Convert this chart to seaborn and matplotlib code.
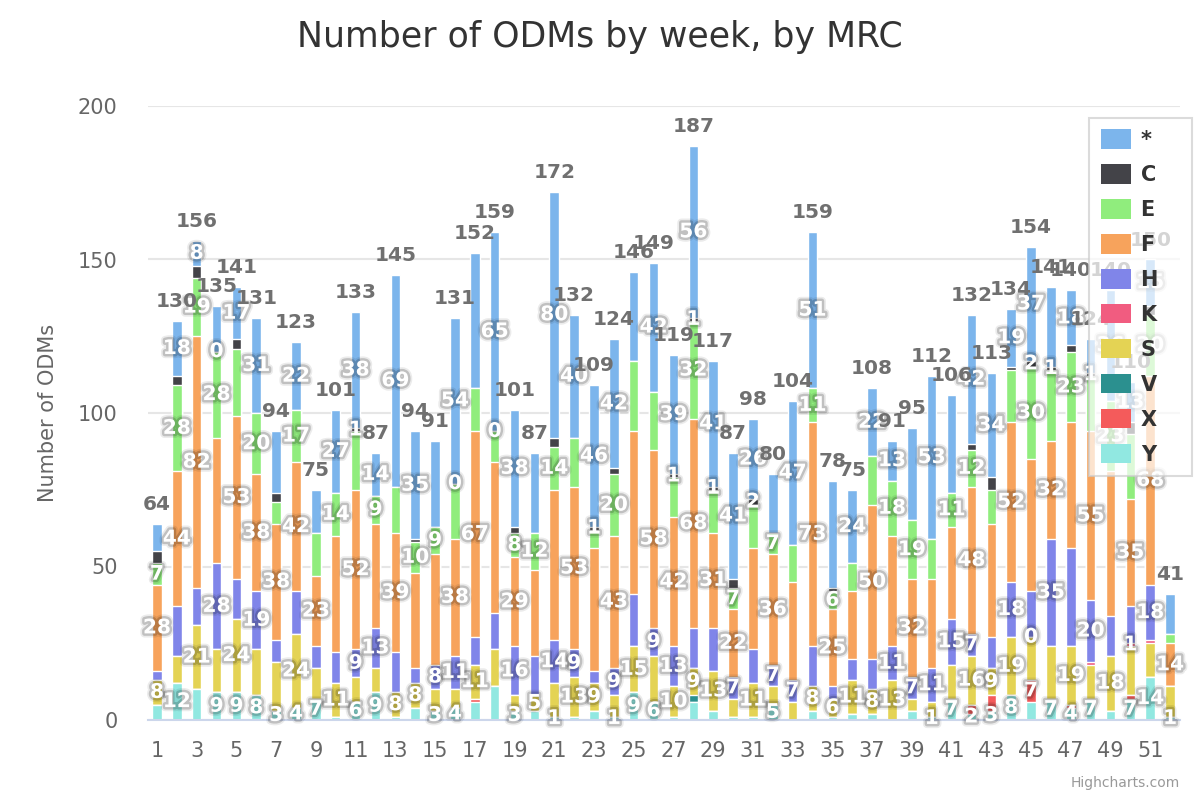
import numpy as np
import pandas as pd
import seaborn as sns
import matplotlib.pyplot as plt
from matplotlib import patheffects
from matplotlib.patches import Patch

# weekly ODM counts per MRC
weeks = list(range(1, 53))
star = [9, 18, 8, 15, 17, 31, 20, 22, 14, 27, 38, 14, 69, 35, 28, 54, 44, 65, 38, 26,
        80, 40, 46, 42, 29, 42, 39, 56, 41, 41, 26, 19, 47, 51, 35, 24, 22, 13, 30, 53,
        32, 42, 34, 19, 37, 26, 18, 11, 36, 13, 15, 13]
c_vals = [4, 3, 4, 0, 3, 0, 3, 0, 0, 0, 1, 0, 0, 1, 0, 0, 0, 0, 2, 0,
          3, 0, 1, 2, 0, 0, 1, 1, 1, 3, 2, 0, 0, 0, 1, 0, 0, 0, 0, 0,
          0, 2, 4, 1, 2, 1, 2, 1, 0, 4, 3, 0]
e_vals = [7, 28, 19, 28, 22, 20, 7, 17, 14, 14, 19, 9, 15, 10, 9, 18, 14, 10, 8, 12,
          14, 16, 6, 20, 23, 19, 13, 32, 14, 7, 14, 7, 12, 11, 6, 9, 16, 18, 19, 13,
          11, 12, 11, 17, 30, 23, 23, 18, 23, 21, 20, 3]
f_vals = [28, 44, 82, 41, 53, 38, 38, 42, 23, 38, 52, 34, 39, 31, 36, 38, 67, 49, 29, 28,
          49, 53, 40, 43, 53, 58, 42, 68, 31, 22, 33, 36, 32, 73, 25, 22, 50, 36, 32, 29,
          30, 48, 37, 52, 43, 32, 41, 55, 47, 35, 68, 14]
h_vals = [3, 16, 12, 28, 13, 19, 7, 14, 7, 10, 9, 13, 13, 5, 8, 11, 9, 12, 16, 13,
          14, 9, 4, 9, 17, 9, 13, 13, 14, 7, 11, 7, 7, 13, 4, 7, 10, 11, 7, 11,
          15, 7, 10, 18, 15, 35, 32, 20, 13, 12, 18, 0]
k_vals = [0, 0, 0, 0, 0, 0, 0, 0, 0, 0, 0, 0, 0, 0, 0, 0, 0, 0, 0, 0,
          0, 0, 0, 0, 0, 0, 0, 0, 0, 0, 0, 0, 0, 0, 0, 0, 0, 0, 0, 0,
          0, 0, 0, 0, 0, 0, 0, 1, 0, 1, 1, 0]
s_vals = [8, 9, 21, 14, 24, 15, 16, 24, 10, 11, 8, 8, 8, 8, 7, 6, 11, 12, 5, 5,
          11, 13, 9, 7, 15, 15, 10, 9, 13, 6, 11, 6, 6, 8, 6, 11, 8, 13, 4, 5,
          11, 16, 9, 19, 14, 17, 19, 11, 18, 16, 11, 10]
v_vals = [0, 0, 0, 0, 0, 0, 0, 0, 0, 0, 0, 0, 0, 0, 0, 0, 0, 0, 0, 0,
          0, 0, 0, 0, 0, 0, 0, 2, 0, 0, 0, 0, 0, 0, 0, 0, 0, 0, 0, 0,
          0, 0, 0, 0, 0, 0, 0, 0, 0, 0, 0, 0]
x_vals = [0, 0, 0, 0, 0, 0, 0, 0, 0, 0, 0, 0, 0, 0, 0, 0, 1, 0, 0, 0,
          0, 0, 0, 0, 0, 0, 0, 0, 0, 0, 0, 0, 0, 0, 0, 0, 0, 0, 0, 0,
          0, 3, 5, 0, 7, 0, 1, 0, 0, 1, 0, 0]
y_vals = [5, 12, 10, 9, 9, 8, 3, 4, 7, 1, 6, 9, 1, 4, 3, 4, 6, 11, 3, 3,
          1, 1, 3, 1, 9, 6, 1, 6, 3, 1, 1, 5, 0, 3, 1, 2, 2, 0, 3, 1,
          7, 2, 3, 8, 6, 7, 4, 7, 3, 7, 14, 1]
# points that exist with a value of 0 (they still get a "0" label)
zero_points = [(4, "C"), (8, "C"), (13, "K"), (16, "C"), (17, "C"), (18, "C"), (25, "K"), (45, "K")]

legend_order = ["*", "C", "E", "F", "H", "K", "S", "V", "X", "Y"]
palette = {"*": "#7cb5ec", "C": "#434348", "E": "#90ed7d", "F": "#f7a35c", "H": "#8085e9",
           "K": "#f15c80", "S": "#e4d354", "V": "#2b908f", "X": "#f45b5b", "Y": "#91e8e1"}

df = pd.DataFrame({"week": weeks, "*": star, "C": c_vals, "E": e_vals, "F": f_vals,
                   "H": h_vals, "K": k_vals, "S": s_vals, "V": v_vals, "X": x_vals, "Y": y_vals})
stack_order = legend_order[::-1]  # bottom to top
cum = df[stack_order].cumsum(axis=1)
totals = cum["*"]

sns.set_theme(style="white")
plt.rcParams["font.family"] = ["DejaVu Sans"]

fig = plt.figure(figsize=(12, 8), dpi=100)
ax = fig.add_axes([148 / 1200, 80 / 800, 1032 / 1200, 614 / 800])

# stacked look: draw cumulative bars from the top series down
for name in legend_order:
    sns.barplot(x=df["week"], y=cum[name], native_scale=True, color=palette[name],
                saturation=1, width=0.48, edgecolor="white", linewidth=1,
                errorbar=None, ax=ax, zorder=2)

ax.set_xlim(0.55, 52.5)
ax.set_ylim(0, 200)
ax.set_xlabel("")
ax.set_ylabel("")
ax.set_xticks(list(range(1, 52, 2)))
ax.set_xticklabels([str(w) for w in range(1, 52, 2)])
ax.set_yticks([0, 50, 100, 150, 200])
ax.set_yticklabels(["0", "50", "100", "150", "200"])
ax.tick_params(axis="x", length=13, width=1.5, color="#ccd6eb", pad=2, labelsize=15, labelcolor="#666666")
ax.tick_params(axis="y", length=0, pad=22, labelsize=15, labelcolor="#666666")
ax.yaxis.grid(True, color="#e6e6e6", linewidth=1.5)
ax.xaxis.grid(False)
ax.set_axisbelow(True)
for side in ["left", "top", "right"]:
    ax.spines[side].set_visible(False)
ax.spines["bottom"].set_color("#ccd6eb")
ax.spines["bottom"].set_linewidth(1.5)


def label_box(x, y, s):
    px, py = ax.transData.transform((x, y))
    bw = sum(9 if ch == "1" else 14 for ch in s)
    bh = 33
    return (px - bw / 2, py - bh / 2, px + bw / 2, py + bh / 2)


def hits(box, boxes):
    return any(box[0] < b[2] and b[0] < box[2] and box[1] < b[3] and b[1] < box[3] for b in boxes)


# stack totals (always shown)
for w, t in zip(weeks, totals):
    ax.annotate(str(t), (w, t), xytext=(0, 14), textcoords="offset points",
                ha="center", va="center", color="#707070", fontsize=14.5,
                fontweight="bold", zorder=6)

# segment labels, hiding overlaps (taller segments win)
halo = [patheffects.Stroke(linewidth=6, foreground="black", alpha=0.08),
        patheffects.Stroke(linewidth=3.5, foreground="black", alpha=0.18),
        patheffects.Normal()]
cands = []
for name in stack_order:
    bottoms = cum[name] - df[name]
    for i, w in enumerate(weeks):
        v = int(df[name][i])
        if v > 0 or (w, name) in zero_points:
            cands.append((v, w, bottoms[i] + v / 2, str(v)))
cands.sort(key=lambda c: -c[0])
seg_boxes = []
for v, w, yc, s in cands:
    box = label_box(w, yc, s)
    if hits(box, seg_boxes):
        continue
    seg_boxes.append(box)
    ax.text(w, yc, s, ha="center", va="center", color="white", fontsize=14.5,
            fontweight="bold", path_effects=halo, zorder=5)

handles = [Patch(facecolor=palette[n], edgecolor="none", label=n + "   ") for n in legend_order]
leg = fig.legend(handles=handles, loc="upper right", bbox_to_anchor=(1192 / 1200, 1 - 118 / 800),
                 borderaxespad=0, frameon=True, fancybox=False, framealpha=0.7, edgecolor="#cccccc",
                 prop={"weight": "bold", "size": 15}, handlelength=1.45, handleheight=1.05,
                 handletextpad=0.5, labelspacing=0.68, borderpad=0.55)
leg.get_frame().set_linewidth(1.5)
for t in leg.get_texts():
    t.set_color("#333333")

fig.text(0.5, 1 - 37 / 800, "Number of ODMs by week, by MRC", ha="center", va="center",
         fontsize=25, color="#333333")
fig.text(48 / 1200, 1 - 413 / 800, "Number of ODMs", rotation=90, ha="center", va="center",
         fontsize=15, color="#666666")
fig.text(1180 / 1200, 1 - 783 / 800, "Highcharts.com", ha="right", va="center",
         fontsize=10, color="#999999")

fig.savefig("out.png", dpi=100)
